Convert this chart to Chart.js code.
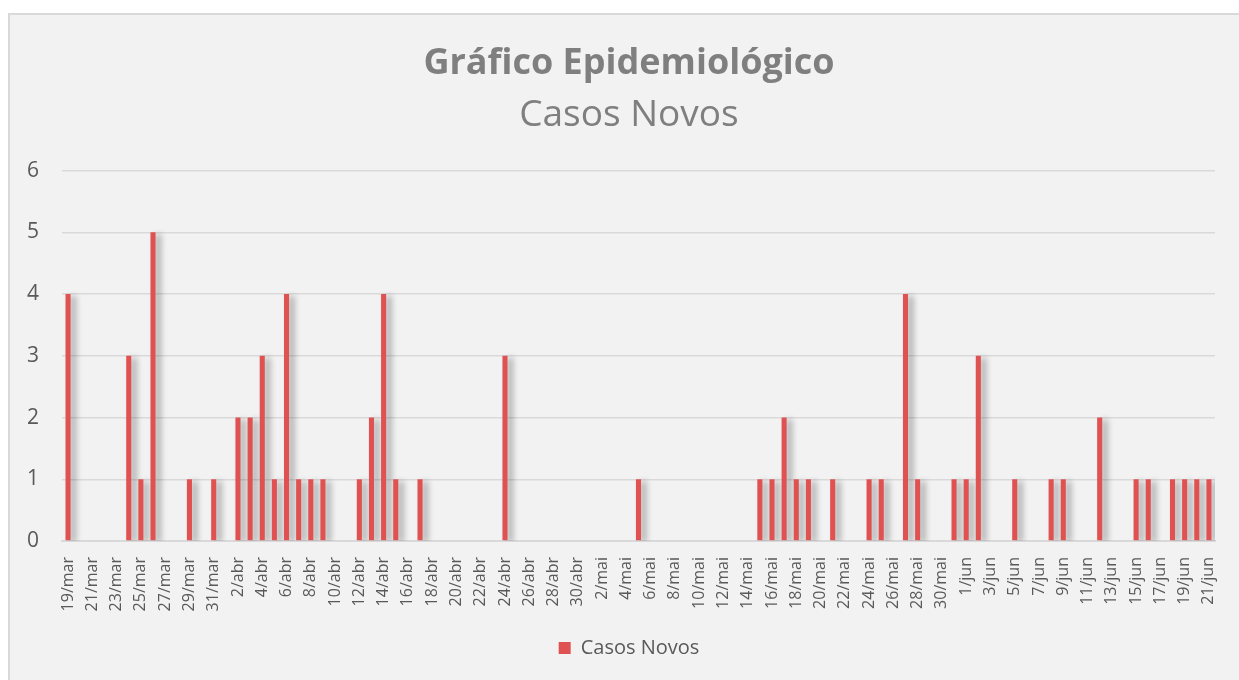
<!DOCTYPE html>
<html>
<head>
<meta charset="utf-8">
<script src="https://cdn.jsdelivr.net/npm/chart.js@4.4.0/dist/chart.umd.min.js"></script>
<style>
    html, body { margin: 0; padding: 0; background: #ffffff; overflow: hidden; }
    #frame {
        position: absolute;
        left: 8px;
        top: 13px;
        width: 1240px;
        height: 680px;
        background: #f2f2f2;
        border: 2px solid #d9d9d9;
    }
    #chart { display: block; }
</style>
</head>
<body>
<div id="frame">
    <canvas id="chart" width="1229" height="665"></canvas>
</div>
<script>
// Dias de 19/mar a 21/jun
const dayLabels = [
    '19/mar', '20/mar', '21/mar', '22/mar', '23/mar', '24/mar', '25/mar', '26/mar', '27/mar', '28/mar',
    '29/mar', '30/mar', '31/mar',
    '1/abr', '2/abr', '3/abr', '4/abr', '5/abr', '6/abr', '7/abr', '8/abr', '9/abr', '10/abr',
    '11/abr', '12/abr', '13/abr', '14/abr', '15/abr', '16/abr', '17/abr', '18/abr', '19/abr', '20/abr',
    '21/abr', '22/abr', '23/abr', '24/abr', '25/abr', '26/abr', '27/abr', '28/abr', '29/abr', '30/abr',
    '1/mai', '2/mai', '3/mai', '4/mai', '5/mai', '6/mai', '7/mai', '8/mai', '9/mai', '10/mai',
    '11/mai', '12/mai', '13/mai', '14/mai', '15/mai', '16/mai', '17/mai', '18/mai', '19/mai', '20/mai',
    '21/mai', '22/mai', '23/mai', '24/mai', '25/mai', '26/mai', '27/mai', '28/mai', '29/mai', '30/mai',
    '31/mai',
    '1/jun', '2/jun', '3/jun', '4/jun', '5/jun', '6/jun', '7/jun', '8/jun', '9/jun', '10/jun',
    '11/jun', '12/jun', '13/jun', '14/jun', '15/jun', '16/jun', '17/jun', '18/jun', '19/jun', '20/jun',
    '21/jun'
];

// Casos novos por dia
const marCases = [4, 0, 0, 0, 0, 3, 1, 5, 0, 0, 1, 0, 1];
const abrCases = [0, 2, 2, 3, 1, 4, 1, 1, 1, 0, 0, 1, 2, 4, 1, 0, 1, 0, 0, 0, 0, 0, 0, 3, 0, 0, 0, 0, 0, 0];
const maiCases = [0, 0, 0, 0, 1, 0, 0, 0, 0, 0, 0, 0, 0, 0, 1, 1, 2, 1, 1, 0, 1, 0, 0, 1, 1, 0, 4, 1, 0, 0, 1];
const junCases = [1, 3, 0, 0, 1, 0, 0, 1, 1, 0, 0, 2, 0, 0, 1, 1, 0, 1, 1, 1, 1];
const newCases = marCases.concat(abrCases, maiCases, junCases);

const yTicks = [0, 1, 2, 3, 4, 5, 6];

const textGray = '#595959';
const gridGray = '#d9d9d9';
const barRed = '#e05252';

// sombra das barras, como no Excel
const barShadow = {
    id: 'barShadow',
    beforeDatasetsDraw(chart) {
        const ctx = chart.ctx;
        ctx.save();
        ctx.shadowColor = 'rgba(0, 0, 0, 0.33)';
        ctx.shadowBlur = 6;
        ctx.shadowOffsetX = 5;
        ctx.shadowOffsetY = 2;
    },
    afterDatasetsDraw(chart) {
        chart.ctx.restore();
    }
};

new Chart(document.getElementById('chart'), {
    type: 'bar',
    data: {
        labels: dayLabels,
        datasets: [{
            label: 'Casos Novos',
            data: newCases,
            backgroundColor: barRed,
            borderWidth: 0,
            barPercentage: 0.42,
            categoryPercentage: 1.0
        }]
    },
    options: {
        responsive: false,
        animation: false,
        // padding à esquerda para centrar título e legenda como no original
        layout: { padding: { left: 33, right: 24, top: 20, bottom: 12 } },
        plugins: {
            title: {
                display: true,
                text: 'Gráfico Epidemiológico',
                color: '#7f7f7f',
                font: { family: 'Open Sans', size: 36, weight: 'bold' },
                padding: { top: 7, bottom: 8 }
            },
            subtitle: {
                display: true,
                text: 'Casos Novos',
                color: '#7f7f7f',
                font: { family: 'Open Sans', size: 37, weight: 'normal' },
                padding: { top: 0, bottom: 33 }
            },
            legend: {
                position: 'bottom',
                labels: {
                    color: textGray,
                    font: { family: 'Open Sans', size: 20 },
                    boxWidth: 12,
                    boxHeight: 12,
                    padding: 10
                }
            },
            tooltip: { enabled: false }
        },
        scales: {
            x: {
                grid: { display: false },
                border: { display: true, color: gridGray, width: 2 },
                afterFit: function (scale) {
                    scale.height = 87;
                },
                ticks: {
                    color: textGray,
                    font: { family: 'Open Sans', size: 16 },
                    autoSkip: false,
                    minRotation: 90,
                    maxRotation: 90,
                    padding: 8,
                    callback: function (value, index) {
                        return index % 2 === 0 ? dayLabels[index] : '';
                    }
                }
            },
            y: {
                min: 0,
                max: 6,
                afterBuildTicks: function (scale) {
                    scale.ticks = yTicks.map(v => ({ value: v }));
                },
                afterFit: function (scale) {
                    scale.width = 19;
                },
                grid: { color: gridGray, lineWidth: 1.5, drawTicks: false },
                border: { display: false },
                ticks: {
                    color: textGray,
                    font: { family: 'Open Sans', size: 21 },
                    mirror: true,
                    padding: -35
                }
            }
        }
    },
    plugins: [barShadow]
});
</script>
</body>
</html>
